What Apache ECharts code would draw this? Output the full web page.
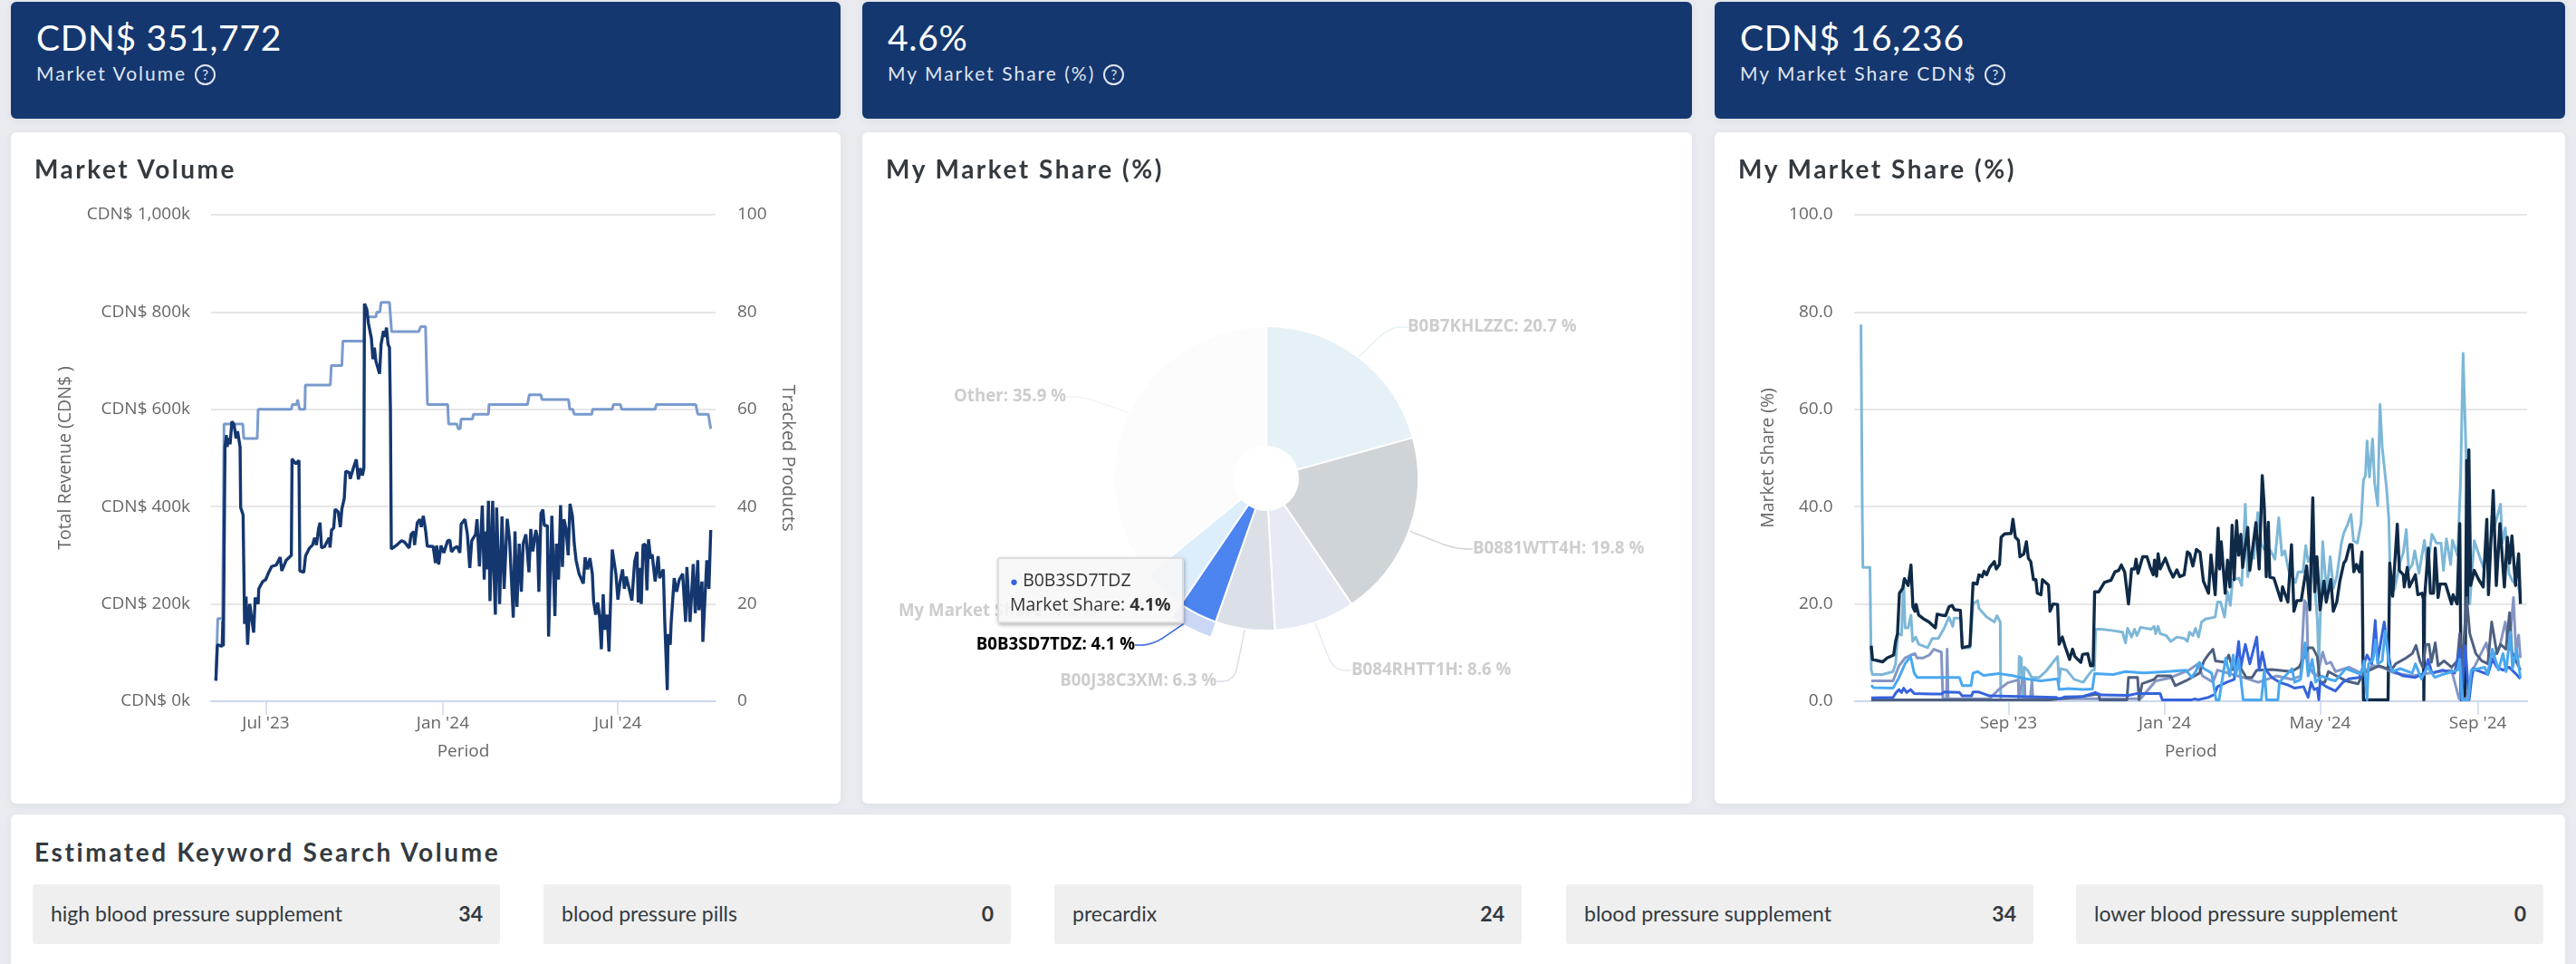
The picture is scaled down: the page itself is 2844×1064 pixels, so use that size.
<!DOCTYPE html>
<html>
<head>
<meta charset="utf-8">
<script src="https://cdn.jsdelivr.net/npm/echarts@6/dist/echarts.min.js"></script>
<style>
html,body{margin:0;padding:0;background:#e9ebf0;width:2844px;height:1064px;overflow:hidden;font-family:Lato,"Noto Sans",sans-serif;}
.card{position:absolute;background:#fff;border-radius:6px;box-shadow:0 2px 8px rgba(80,90,110,.08);}
.top{background:#15376f;color:#fff;top:2px;height:129px;}
.top .big{position:absolute;left:28px;top:14px;font-size:39px;line-height:50px;letter-spacing:.7px;}
.top .small{position:absolute;left:28px;top:65px;font-size:21px;line-height:28px;letter-spacing:2px;color:#dfe5f0;}
.q{display:inline-block;width:19px;height:19px;border:2px solid #dfe5f0;border-radius:50%;font-size:15px;line-height:19px;text-align:center;letter-spacing:0;margin-left:9px;vertical-align:1px;}
.title{position:absolute;left:26px;top:22px;font-size:28px;line-height:36px;font-weight:700;letter-spacing:2.5px;color:#343a40;white-space:nowrap;}
.chart{position:absolute;left:0;top:0;width:100%;height:100%;}
.kw{position:absolute;top:77px;height:66px;width:516px;background:#efefef;border-radius:3px;font-size:23px;line-height:64px;color:#343a40;}
.kw span{position:absolute;left:20px;}
.kw b{position:absolute;right:19px;}
</style>
</head>
<body>
<div class="card top" style="left:12px;width:916px"><div class="big" id="v0"></div><div class="small" id="l0"></div></div>
<div class="card top" style="left:952px;width:916px"><div class="big" id="v1"></div><div class="small" id="l1"></div></div>
<div class="card top" style="left:1893px;width:939px"><div class="big" id="v2"></div><div class="small" id="l2"></div></div>

<div class="card" style="left:12px;top:146px;width:916px;height:741px"><div class="chart" id="volumeChart"></div><div class="title">Market Volume</div></div>
<div class="card" style="left:952px;top:146px;width:916px;height:741px"><div class="chart" id="pieChart"></div><div class="title">My Market Share (%)</div></div>
<div class="card" style="left:1893px;top:146px;width:939px;height:741px"><div class="chart" id="shareChart"></div><div class="title">My Market Share (%)</div></div>

<div class="card" id="kwCard" style="left:12px;top:899px;width:2820px;height:175px"><div class="title" style="top:23px;letter-spacing:2.6px">Estimated Keyword Search Volume</div></div>

<script>
var cardValues = ['CDN$ 351,772', '4.6%', 'CDN$ 16,236'];
var cardLabels = ['Market Volume', 'My Market Share (%)', 'My Market Share CDN$'];

var keywords = ['high blood pressure supplement', 'blood pressure pills', 'precardix', 'blood pressure supplement', 'lower blood pressure supplement'];
var keywordVolumes = [34, 0, 24, 34, 0];

// [days since 5 May 2023, value]
var trackedProducts = [[5,4.4],[7,17],[12,17],[13.5,57],[33,57],[34,54],[48,54],[49,60],[83.5,60],[84.5,61],[89,61],[90,62],[92,60],[97.6,60],[98,65],[124,65],[125,69],[136,69],[137,74],[159,74],[160,79],[171.4,79],[172.4,80],[175.5,80],[176.8,82],[185.5,82],[187.7,76],[216,76],[218,77],[223,77],[225,61],[246,61],[247,57],[255.5,57],[257,56],[259,56],[260,58],[271.8,58],[272.7,59],[288.4,59],[289,61],[329,61],[330.8,63],[343,63],[344,62],[371.6,62],[373,60],[376,60],[377.6,59],[395.8,59],[396.7,60],[417,60],[418.4,61],[425.6,61],[427,60],[461.7,60],[463,61],[504,61],[506,59],[517,59],[519.5,56]];

var totalRevenue = [[5,42],[6.6,116],[11.6,113],[12.3,166],[12.8,113],[14.5,523],[16,547],[16.7,523],[18.5,541],[19.8,528],[21.7,575],[23.9,569],[26,540],[27.6,555],[30.2,523],[30.8,398],[33.3,383],[34.9,159],[36.4,215],[38,116],[40.2,200],[44.3,141],[45.9,213],[49,200],[49.6,231],[53.7,246],[56.8,250],[60,265],[63,277],[67.8,280],[71.9,296],[73.5,268],[78.2,290],[83.5,300],[84.2,498],[88.2,488],[91.4,495],[92.3,268],[96.4,265],[98.3,299],[102.4,315],[105.5,321],[107.7,336],[109.6,321],[111.8,355],[113.3,367],[114.9,315],[118,318],[122.8,336],[123.7,316],[125.3,352],[127.5,356],[129,395],[132.2,389],[134.4,358],[136,395],[138.5,417],[140,473],[143.8,470],[144.7,457],[147.9,479],[151,497],[153.2,456],[155.1,479],[157.3,464],[158.9,479],[159.5,817],[162,805],[163.6,777],[166.7,746],[168.3,703],[169.8,727],[171.4,699],[173,696],[175.2,673],[176.8,734],[179.3,761],[180.8,749],[182.4,768],[184,734],[185.5,727],[186.5,597],[187.4,313],[191.8,319],[198.1,330],[201.2,327],[206,315],[208,343],[210.7,349],[211.6,321],[214.4,367],[217,374],[218.5,358],[220.7,381],[223.2,349],[224.8,319],[231,318],[233.3,284],[234.5,320],[236.7,281],[239,320],[242,305],[246,330],[248.3,331],[249.9,307],[253,315],[256,318],[258.7,305],[260,364],
[264,374],[266.5,343],[269,274],[271,330],[275,343],[276.5,374],[279,277],[282,402],[284,250],[285.3,349],[286.5,271],[288.4,412],[290,206],[292.8,412],[294,274],[295.6,178],[296.9,398],[300,200],[302.5,380],[304.7,231],[307.9,375],[310.4,330],[314.2,172],[316,349],[318,194],[320.4,324],[322.6,225],[324.5,324],[327.3,343],[330.5,265],[332.4,354],[334.6,308],[337.7,352],[339.3,336],[340.8,225],[343,386],[345,394],[346.5,361],[349.6,361],[350.9,133],[354.3,381],[355.9,380],[357.5,175],[359,324],[361.2,250],[363.4,403],[365.3,276],[366.9,374],[369,355],[371.3,300],[373.2,406],[375.7,380],[377.6,324],[379.5,290],[382.6,262],[387,242],[388.9,296],[391.4,271],[393.9,294],[396.4,262],[397.7,206],[399.9,178],[402,203],[404,172],[405.8,107],[407.7,220],[409.3,147],[411.8,178],[413.7,102],[414.6,103],[417.1,312],[418.7,314],[420.9,262],[423,209],[425.3,246],[427.8,271],[429.7,231],[431.6,256],[434,237],[437.5,207],[440.4,287],[442.9,307],[444.1,203],[446,274],[447.3,200],[449.1,321],[451.3,323],[453.2,228],[454.8,333],[457,293],[458.6,302],[461.7,246],[464.8,298],[466.4,253],[470.2,271],[471.7,163],[474.3,23],[475.2,138],[477.4,116],[478.3,160],[481.5,253],[484,225],[486.8,250],[490.3,262],[493.4,163],[494.7,276],[498,163],[501.3,282],[503.4,181],[506,290],[507.2,187],[510.4,246],[511.3,122],[515.4,290],[517.6,231],[519.5,352]];

var volumeTicks = ['2023-07-01', '2024-01-01', '2024-07-01'];
var volumeTickLabels = ["Jul '23", "Jan '24", "Jul '24"];

// pie, clockwise from the top
var pieNames = ['B0B7KHLZZC', 'B0881WTT4H', 'B084RHTT1H', 'B00J38C3XM', 'B0B3SD7TDZ', 'My Market Share', 'Other'];
var pieValues = [20.7, 19.8, 8.6, 6.3, 4.1, 4.6, 35.9];

// [days since 4 May 2023, market share %]
var shareB0B7 = [[5,77.4],[6,40],[6.5,27.5],[12,27.5],[13,6.4],[14,5.5],[21.8,5.5],[30,6.1],[32,7.7],[33.8,13.9],[36.6,13.6],[38.3,25],[39.4,15.1],[41.8,15.1],[44,17.7],[45.3,12.3],[47.7,13.2],[50,11.7],[57,11],[60.6,12.9],[65.3,12.9],[70,15.1],[73.6,17.3],[76.6,15.4],[77.6,17.1],[83,17.1],[84,11],[90,11],[92.4,20],[96,20.7],[97,19.1],[103,17.3],[109,16.3],[111,17.6],[113.6,16.3],[114,0.3],[127.7,0.3],[128.4,9.2],[130,8.9],[131,0.5],[132.4,7],[134.8,6.4],[138.3,4.9],[144,4.9],[149,6.1],[158.3,9.2],[159.5,3.9],[160.7,6.7],[165.4,6.4],[171.3,4.5],[178.3,3.9],[181.8,5.2],[185.4,6.4],[187,6.4],[188,14.8],[192.4,14.8],[201.8,14.5],[208.9,14.2],[211.3,12],[212.9,15],[216,13.2],[218.3,14.8],[220.2,13.5],[223,15.2],[231.3,14.8],[233.6,15.4],[234.8,13.9],[236.7,15.4],[238.3,13.9],[243,13.5],[246.6,12.3],[251.3,13.2],[257.2,12.9],[259.5,12.3],[261.2,14.2],[263.8,13.5],[265.9,15],[268.2,13.2],[270.6,16.3],[273.6,16.9],[281.2,17.3],[283,20.4],[285.4,20.4],[288.5,17.3],[290.8,22.5],[293,19.7],[294.8,25],[299.5,25.3],[301.9,23.8],[304.7,40.5],[306.6,25.6],[309,30],[311.3,29.4],[314.4,38.8],[317.2,32.2],[319.5,31.2],[324.2,31],[327.8,29.2],[330.8,37.7],[333.2,30],[335.5,30.9],[338.4,26.9],[343.8,24.4],[345.9,26.6],[349.7,26.6],[351.8,32],[353.7,28.7],[356,30],[358.4,25],[360.8,17],[362,7.7],[365,32.8],[366.7,26.9],[368.3,22.5],[370.9,29.7],[373.3,23.2],[376,25.6],[379.6,32.5],[381.5,34.6],[384.3,36.2],[387.1,38.4],[389,33],[392,32.5],[394.9,36.5],[396.8,45.5],[398.4,46.4],[399.6,53.5],[401.5,46.1],[403.9,53.9],[405.5,44.9],[407.9,40.2],[409.7,61],[411.4,52.3],[414.9,43.6],[416.6,37.4],[418,21.9],[421,23],[425.5,28.7],[427.9,30.6],[430.2,35.3],[432.1,26.9],[434.9,28.1],[436.8,30.9],[440.1,26.3],[444.4,33.1],[446.7,27.5],[450.2,34.3],[453.8,32.5],[457.3,32.5],[459.2,26.9],[461.5,33.4],[464.8,28.1],[466.2,33.1],[470.2,30],[472.5,45],[474.5,71.5],[476.8,51],[478.5,32.5],[479.7,20],[483.2,33],[485.5,31.2],[490.2,27.5],[503.7,40.5],[505,32.5],[507.4,35.6],[510.3,26.3],[513,24.7],[517.3,23.8],[519,22]];

var shareB0881 = [[13,11.4],[14,8.6],[22,8.1],[25.3,8.9],[30.5,9.5],[32,12.3],[33.5,13.9],[35,22.2],[37.5,23.2],[39,25.2],[41.8,23.8],[44,28],[45.5,19.4],[47,18.5],[48,19.9],[50,17.7],[53.5,17],[58,16.3],[63,15.1],[64.4,17.9],[67.7,17.7],[71,17.6],[73.6,19.4],[76,19.7],[78,18.8],[82.5,18.7],[84,11],[90,11.4],[92.4,24.3],[95.5,24.1],[97,26],[99.5,25.6],[101,26.7],[103,26],[105.3,27.5],[109,28.7],[110.5,27.2],[113,28.1],[114.3,33.7],[117,34.4],[122,34.5],[123.5,37.4],[125.4,33.7],[127.7,33.1],[129,29.7],[132,30.3],[134,32.8],[135.5,29.4],[137.4,28.7],[139.5,25],[141.4,25],[142.5,22.2],[145.4,21.9],[146.5,25],[151.2,23.9],[152.4,18.5],[154.8,20],[158.3,19.9],[159.5,11.7],[162,13.2],[164,11.4],[167.7,8.6],[170,10.7],[171.8,9.2],[176.4,8],[177.8,9.6],[181.8,9.8],[184,7.3],[186,7.3],[187.2,22.5],[190.5,22.5],[194.8,24.4],[200,24.9],[203,26.6],[206,26.9],[208,28],[210.6,26.6],[213.6,20],[216,27.2],[218.3,27.2],[219.5,29.2],[221,26.3],[224.7,29.7],[228,29.7],[230.6,27.5],[232.9,26],[233.9,29],[235.5,25.7],[236.7,30.3],[238.3,27.2],[242.3,29.4],[245.4,27.2],[248.4,25.5],[251.3,27],[253.6,25.6],[257,26],[259.5,30.7],[261.4,30.3],[263.8,27.8],[266.6,31.2],[269.4,30.6],[272,24.7],[276,22.2],[277.9,30.1],[281.2,21.9],[283.5,35.6],[284.7,27.2],[285.9,32.8],[289,22.2],[290.8,29],[292.7,23.5],[294.4,36.2],[296,25],[297.9,37.1],[299.5,30],[301.2,34.3],[302.6,27.5],[304.2,30.9],[306.6,35.7],[308.2,26.9],[313,36.7],[315.5,27.2],[317.9,46.4],[319.5,39.9],[321,25.6],[322.6,36.8],[323.8,25.5],[327,25.3],[332.5,20.7],[333.7,23.5],[337.9,20.4],[340.7,32.2],[342.6,18.5],[345,20.7],[348.3,20.7],[352.5,27.8],[355,18.8],[357.3,41.8],[358.9,22.5],[360.5,29.7],[363,18.8],[366,24.7],[367.8,20.4],[371.4,25],[373.3,18.5],[376,20.4],[378.4,24.7],[381.5,28.4],[383.1,29],[386.2,32.2],[387.9,32.2],[389.3,26.6],[391.4,28.1],[393.7,26.6],[395.6,30.7],[396.8,0.3],[416,0.3],[417.3,28.4],[419.6,21.6],[423.2,36.4],[424.8,26.9],[427.9,26],[428.6,23.5],[431,27.5],[432.6,23.5],[437.3,26],[439.2,21.9],[442.5,22.2],[443.5,21],[443.9,0.3],[444.5,21.3],[445,21.3],[447.4,31.5],[449,22.2],[451.4,22.2],[452.8,31.5],[455,21.3],[456.6,24.1],[460.8,24.1],[465.5,20],[466.7,21.9],[469.8,20],[471.9,36.5],[473,0.3],[476,0.3],[477.3,49.5],[477.9,20],[479,51.7],[480.4,23.8],[483.2,26.9],[486.7,25],[490.2,23.5],[493,37.4],[494.3,21.9],[498,43.3],[500.4,23.8],[503.2,36.5],[506.7,23.5],[509,33.7],[510.7,28.4],[512.6,34],[515.4,23.8],[517.8,30.3],[519.2,20]];

var shareB084 = [[13,4.2],[30,4.2],[34.7,7.3],[39.4,8.9],[44,9.5],[47,9.8],[48.8,8.9],[53.5,8.9],[58.3,9.5],[61.8,10.7],[67.7,10.1],[68.9,0.5],[71.7,0.5],[72.2,10.7],[73,0.5],[105.3,0.5],[112.4,2.4],[119.5,3.8],[127.7,4.4],[128,0.5],[130.8,4.2],[132.6,4.2],[133,0.5],[137,0.5],[138.3,4.2],[139,0.5],[223,0.5],[234.8,4.2],[246,4.8],[260.7,6.4],[267.8,7.7],[271.3,5.2],[279.5,3.9],[283,6.4],[303,4.9],[314.8,3.9],[329,5.2],[340.7,4.5],[347.8,5.2],[350.8,20.7],[352.5,20],[353.7,7.7],[357.3,5.8],[360.8,5.2],[365,10.1],[367.8,7.7],[371.4,8],[375,6.1],[385.5,7],[394.9,5.8],[404.3,7.3],[411.4,7],[420.8,5.8],[434.9,5.2],[449,5.8],[465.5,6.4],[471.4,0.5],[477.3,0.5],[483.2,7],[492.6,12],[496,8],[503.2,11.4],[507.4,16.3],[510.3,10.7],[513.8,21.3],[515.7,10.1],[517.8,13.6],[519.2,8.9]];

var shareB00J = [[13,0.3],[152.4,0.3],[178,1],[187.5,1.4],[190.5,1.4],[191.2,0.3],[212.4,0.3],[213.6,4.9],[220.7,4.9],[221.8,0.3],[224.2,3.6],[233.6,4.5],[236,5.2],[246.6,5.2],[250,3.2],[258.3,4.2],[269,5.8],[272.5,8.3],[276,9.6],[279.5,10.7],[281.4,8.3],[289,8],[291.8,9.5],[295,6.5],[300.7,7],[305.4,4.9],[310,4.9],[313.6,6.4],[325.4,6.5],[340.7,6.1],[346.6,7],[351.3,9.5],[353.7,11],[357.3,11],[360.8,9.2],[363,3.9],[366.7,3.9],[369.5,6.1],[373.7,5.5],[383,4.2],[392.6,3.6],[396.8,5.8],[409,7.3],[418.5,6.4],[422,7.7],[430,8.9],[434.9,9.8],[437.8,11.5],[440.8,8.3],[443,7],[445.5,11.7],[447.9,11.7],[449.8,8],[452.8,12],[455,7.3],[459.6,8.3],[465.5,7],[470,8.3],[471.9,13.9],[474,7.7],[477.3,21.3],[479.7,13.9],[484.4,9.8],[489,8.3],[493.8,7.7],[496.8,16.3],[500.9,9.8],[503.7,11.7],[507.9,10.7],[510.7,18.2],[512.6,10.1],[519.2,6.4]];

var shareB0B3 = [[13,0.7],[30,0.8],[32.4,1.8],[34.7,2.4],[36.6,1.8],[38.3,2.7],[40.6,1.8],[43.7,2.4],[46.5,1.6],[60.6,1.5],[67.7,1.5],[70,1.9],[81.8,1.8],[84,1.1],[91.2,1.1],[92.4,1.9],[97,1.9],[105.3,1.1],[143,0.9],[157,0.8],[159.5,0.5],[164,0.9],[178.3,1],[187.7,1.8],[192.4,1.3],[213.6,1.2],[220.7,1.6],[238.3,1.6],[240,0.3],[263,0.3],[265.4,0.5],[267.8,0.3],[276,0.8],[280.7,1.4],[283,3],[290,3.9],[296,4.5],[299.5,12.3],[301.2,7],[304.7,11.7],[308.2,7.7],[313.6,13.2],[315.5,6.4],[317.9,10.1],[320.7,6.4],[325.4,4.9],[331.3,3.9],[338.4,3.3],[343.1,2.7],[350.1,3],[353.7,0.8],[356,3.9],[358.4,2.4],[360.8,2.7],[362,0.3],[363,3.9],[367.8,3],[374.9,2.1],[380.8,3.9],[385.5,4.6],[393.7,4.9],[399.6,9.5],[403.2,7.7],[406,16.6],[407.9,8.3],[410.2,12],[413,16.3],[416.1,10.1],[418.5,6.4],[427.9,5.2],[437.3,4.9],[444.4,5.8],[447.2,8.6],[450.2,5.8],[458.5,6.4],[467.9,5.8],[471.9,10.7],[473.3,0.3],[476.1,11.4],[479.2,0.3],[482,6.7],[493.8,5.5],[497.3,8.6],[500.9,7],[505.6,6.4],[510.3,7],[515,5.8],[519.2,4.6]];

var shareMine = [[13,3.3],[14.7,2.8],[30,2.7],[34.7,4.9],[39.4,7.7],[43.7,9.2],[46.5,5.8],[48.8,4.9],[60.6,4.9],[81.8,4.9],[84,3.2],[90.8,3.2],[92.4,5.8],[96,6.1],[100.6,5.3],[112.4,5.7],[124.2,5.2],[133.6,4.6],[145.4,4.2],[158.3,4.6],[159.5,2.4],[166.5,2.6],[178.3,2.4],[185.4,2.5],[187.2,5.7],[201.8,5.5],[211.3,6.1],[225.4,5.8],[244.2,6.1],[258.3,6.4],[263,4.9],[266.6,6.4],[268.9,8],[272.5,6.7],[278.4,5.8],[281.9,0.3],[284.2,0.3],[289.4,8.9],[292.5,5.2],[295.3,9.5],[297.2,5.2],[299.5,8.6],[303,0.3],[317.2,0.3],[319.5,6.4],[321.2,0.3],[330.1,0.3],[331.3,3.9],[341.2,6.7],[343.1,3.9],[347.8,4.5],[351.3,12],[353.7,5.2],[356.8,8.6],[359.6,3.9],[364.3,5.2],[369,4.6],[374.9,4.2],[383.1,6.7],[394.9,5.5],[397.3,8.3],[399.6,0.3],[400.8,7.7],[404.3,8.6],[406.2,12.6],[407.9,7.7],[411.4,8.3],[413.8,14.5],[416.6,7.7],[419.6,6.1],[425.5,6.7],[434.9,5.8],[437.3,7.7],[442,4.6],[446.7,7],[452.6,4.9],[458.5,5.5],[470.2,6.4],[471.9,8.6],[473.8,0.3],[478.5,0.3],[480.8,6.4],[491.4,7],[493.5,5.5],[497.3,10.7],[502,6.4],[505.6,9.8],[508,6.1],[511.4,14.2],[513,6.7],[516.2,10.7],[519.2,4.8]];

var shareTicks = ['2023-09-01', '2024-01-01', '2024-05-01', '2024-09-01'];
var shareTickLabels = ["Sep '23", "Jan '24", "May '24", "Sep '24"];

var axisFont = '"Open Sans", sans-serif';

function parseDay(s) {
    var p = s.split('-');
    return new Date(+p[0], +p[1] - 1, +p[2]).getTime();
}

function toTime(points, startDay) {
    var out = [];
    for (var i = 0; i < points.length; i++) {
        out.push([startDay + points[i][0] * 86400000, points[i][1]]);
    }
    return out;
}

// value axis holding timestamps, the time axis breaks on custom ticks
function periodAxis(ticks, labels, min, max) {
    var tickTimes = ticks.map(parseDay);
    return {
        type: 'value',
        min: min,
        max: max,
        name: 'Period',
        nameLocation: 'middle',
        nameGap: 46,
        nameTextStyle: {color: '#666', fontSize: 19, fontFamily: axisFont},
        axisLine: {onZero: false, lineStyle: {color: '#ccd6eb', width: 2}},
        axisTick: {customValues: tickTimes, length: 15, lineStyle: {color: '#ccd6eb', width: 1.5}},
        axisLabel: {
            customValues: tickTimes,
            color: '#666',
            fontSize: 19,
            fontFamily: axisFont,
            margin: 15,
            formatter: function (val) {
                return labels[tickTimes.indexOf(val)];
            }
        },
        splitLine: {show: false}
    };
}

function myVolumeChart(id) {
    var myChart = echarts.init(document.getElementById(id));
    var start = new Date(2023, 4, 5).getTime();

    var option = {
        animation: false,
        textStyle: {fontFamily: axisFont},
        grid: {left: 221, right: 138, top: 91, bottom: 113},
        xAxis: periodAxis(volumeTicks, volumeTickLabels, start, start + 524.5 * 86400000),
        yAxis: [
            {
                type: 'value',
                min: 0,
                max: 1000,
                interval: 200,
                name: 'Total Revenue (CDN$ )',
                nameLocation: 'middle',
                nameGap: 151,
                nameTextStyle: {color: '#666', fontSize: 19.5, fontFamily: axisFont},
                axisLine: {show: false},
                axisTick: {show: false},
                axisLabel: {
                    color: '#666',
                    fontSize: 19,
                    fontFamily: axisFont,
                    margin: 23,
                    formatter: function (v) {
                        return 'CDN$ ' + (v >= 1000 ? '1,000' : v) + 'k';
                    }
                },
                splitLine: {lineStyle: {color: '#e6e6e6', width: 2}}
            },
            {
                type: 'value',
                min: 0,
                max: 100,
                interval: 20,
                name: 'Tracked Products',
                nameLocation: 'middle',
                nameRotate: -90,
                nameGap: 70,
                nameTextStyle: {color: '#666', fontSize: 20, fontFamily: axisFont},
                axisLine: {show: false},
                axisTick: {show: false},
                axisLabel: {color: '#666', fontSize: 19, fontFamily: axisFont, margin: 24},
                splitLine: {show: false}
            }
        ],
        series: [
            {
                name: 'Tracked Products',
                type: 'line',
                yAxisIndex: 1,
                showSymbol: false,
                data: toTime(trackedProducts, start),
                lineStyle: {color: '#7a9bcd', width: 3}
            },
            {
                name: 'Total Revenue',
                type: 'line',
                showSymbol: false,
                data: toTime(totalRevenue, start),
                lineStyle: {color: '#15376f', width: 3.4}
            }
        ]
    };
    myChart.setOption(option);
    return myChart;
}

function myPieChart(id) {
    var myChart = echarts.init(document.getElementById(id));

    var sliceColors = ['#e5f1f7', '#cfd4d8', '#e5eaf4', '#dbdfe6', '#4c84f0', '#dceefc', '#fcfcfc'];
    var lineColors = ['#e5f1f7', '#cfd4d8', '#e5eaf4', '#dbdfe6', '#3563dc', '#dceefc', '#f4f4f4'];
    // where each label sits, inside this card
    var labelSpots = [
        {x: 602, y: 215, align: 'left'},
        {x: 674, y: 460, align: 'left'},
        {x: 540, y: 594, align: 'left'},
        {x: 391, y: 606, align: 'right'},
        {x: 301, y: 566, align: 'right'},
        {x: 258, y: 529, align: 'right'},
        {x: 225, y: 292, align: 'right'}
    ];

    var piedata = [];
    var halodata = [];
    for (var i = 0; i < pieNames.length; i++) {
        piedata[i] = {
            value: pieValues[i],
            name: pieNames[i],
            itemStyle: {color: sliceColors[i]},
            label: {color: i === 4 ? '#000' : '#cdcdcd'},
            labelLine: {lineStyle: {color: lineColors[i], width: 1.5}}
        };
        halodata[i] = {
            value: pieValues[i],
            name: pieNames[i],
            itemStyle: {color: i === 4 ? '#cad8f5' : 'rgba(0,0,0,0)'}
        };
    }

    var option = {
        animation: false,
        tooltip: {
            trigger: 'item',
            alwaysShowContent: true,
            transitionDuration: 0,
            position: [149, 469],
            padding: 0,
            borderWidth: 0,
            backgroundColor: 'transparent',
            extraCssText: 'box-shadow:none;',
            formatter: function (p) {
                return '<div style="box-sizing:border-box;width:206px;height:73px;padding:10px 12px;background:rgba(247,247,247,.85);border:2px solid #ddd;border-radius:3px;box-shadow:1px 2px 4px rgba(0,0,0,.3);font:19.5px/26px \'Open Sans\',sans-serif;color:#333;white-space:nowrap;">' +
                    '<span style="color:#3563dc;font-size:15px">&#9679;</span> ' + p.name + '<br>Market Share: <b>' + p.value + '%</b></div>';
            }
        },
        series: [
            {
                type: 'pie',
                silent: true,
                tooltip: {show: false},
                radius: [35, 185],
                center: [446, 382],
                label: {show: false},
                labelLine: {show: false},
                emphasis: {disabled: true},
                data: halodata
            },
            {
                name: 'My Market Share (%)',
                type: 'pie',
                radius: [35, 168],
                center: [446, 382],
                avoidLabelOverlap: false,
                emphasis: {disabled: true},
                itemStyle: {borderColor: '#fff', borderWidth: 2},
                label: {
                    formatter: '{b}: {c} %',
                    fontSize: 18.7,
                    fontWeight: 'bold',
                    fontFamily: axisFont
                },
                labelLine: {smooth: 0.4, length: 20, length2: 20},
                labelLayout: function (params) {
                    var spot = labelSpots[params.dataIndex];
                    return {x: spot.x, y: spot.y, align: spot.align, verticalAlign: 'middle'};
                },
                data: piedata
            }
        ]
    };
    myChart.setOption(option);
    myChart.dispatchAction({type: 'showTip', seriesIndex: 1, dataIndex: 4});
    return myChart;
}

function myShareChart(id) {
    var myChart = echarts.init(document.getElementById(id));
    var start = new Date(2023, 4, 4).getTime();

    function shareLine(points, color, width) {
        return {
            type: 'line',
            showSymbol: false,
            data: toTime(points, start),
            lineStyle: {color: color, width: width, join: 'round'}
        };
    }

    var option = {
        animation: false,
        textStyle: {fontFamily: axisFont},
        grid: {left: 154.5, right: 42, top: 91, bottom: 113},
        xAxis: periodAxis(shareTicks, shareTickLabels, start, start + 524.4 * 86400000),
        yAxis: {
            type: 'value',
            min: 0,
            max: 100,
            interval: 20,
            name: 'Market Share (%)',
            nameLocation: 'middle',
            nameGap: 85,
            nameTextStyle: {color: '#666', fontSize: 19.5, fontFamily: axisFont},
            axisLine: {show: false},
            axisTick: {show: false},
            axisLabel: {
                color: '#666',
                fontSize: 19,
                fontFamily: axisFont,
                margin: 24,
                formatter: function (v) {
                    return v.toFixed(1);
                }
            },
            splitLine: {lineStyle: {color: '#e6e6e6', width: 2}}
        },
        series: [
            shareLine(shareB0B7, '#7db7d8', 3),
            shareLine(shareB0881, '#0f2a47', 3.4),
            shareLine(shareB084, '#8496c4', 3),
            shareLine(shareB00J, '#4e6080', 3),
            shareLine(shareB0B3, '#3563dc', 3),
            shareLine(shareMine, '#4aa8f0', 3)
        ]
    };
    myChart.setOption(option);
    return myChart;
}

for (var c = 0; c < cardValues.length; c++) {
    document.getElementById('v' + c).textContent = cardValues[c];
    document.getElementById('l' + c).innerHTML = cardLabels[c] + '<span class="q">?</span>';
}

var kwCard = document.getElementById('kwCard');
var kwLeft = [24, 588, 1152, 1717, 2280];
for (var k = 0; k < keywords.length; k++) {
    var box = document.createElement('div');
    box.className = 'kw';
    box.style.left = kwLeft[k] + 'px';
    box.innerHTML = '<span>' + keywords[k] + '</span><b>' + keywordVolumes[k] + '</b>';
    kwCard.appendChild(box);
}

myVolumeChart('volumeChart');
myPieChart('pieChart');
myShareChart('shareChart');
</script>
</body>
</html>
